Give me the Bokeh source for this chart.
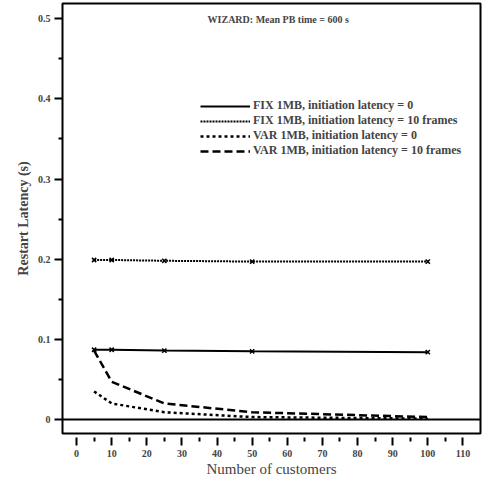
from bokeh.plotting import figure
from bokeh.models import (Range1d, FixedTicker, Span, Legend, LegendItem, Label)
from bokeh.embed import file_html
from bokeh.resources import INLINE

# Number of customers
customers = [5, 10, 25, 50, 100]

# Restart latency (s) for each configuration
fix_lat0 = [0.087, 0.087, 0.086, 0.085, 0.084]
fix_lat10 = [0.199, 0.199, 0.198, 0.197, 0.197]
var_lat0 = [0.035, 0.020, 0.009, 0.003, 0.001]
var_lat10 = [0.086, 0.047, 0.020, 0.009, 0.003]

series_labels = [
    "FIX 1MB, initiation latency = 0",
    "FIX 1MB, initiation latency = 10 frames",
    "VAR 1MB, initiation latency = 0",
    "VAR 1MB, initiation latency = 10 frames",
]

x_ticks = [0, 10, 20, 30, 40, 50, 60, 70, 80, 90, 100, 110]
x_minor = [5, 15, 25, 35, 45, 55, 65, 75, 85, 95, 105]
y_ticks = [0, 0.1, 0.2, 0.3, 0.4, 0.5]
y_minor = [0.05, 0.15, 0.25, 0.35, 0.45]

SERIF = "Liberation Serif"

p = figure(width=482, height=484, output_backend="svg", toolbar_location=None,
           x_range=Range1d(-4.0, 115.0), y_range=Range1d(-0.0175, 0.519),
           min_border_left=62, min_border_right=2, min_border_top=3,
           min_border_bottom=51)
p.grid.visible = False
p.background_fill_color = "white"
p.border_fill_color = "white"
p.outline_line_color = "black"
p.outline_line_width = 2

# x axis sits a little below the frame
xa = p.xaxis[0]
xa.ticker = FixedTicker(ticks=x_ticks, minor_ticks=x_minor)
xa.axis_line_color = None
xa.major_tick_in = -4
xa.major_tick_out = 12
xa.minor_tick_in = -4
xa.minor_tick_out = 8
xa.major_tick_line_width = 2
xa.minor_tick_line_width = 2
xa.major_label_standoff = 4
xa.major_label_text_font = SERIF
xa.major_label_text_font_style = "bold"
xa.major_label_text_font_size = "10px"
xa.axis_label = "Number of customers"
xa.axis_label_text_font = SERIF
xa.axis_label_text_font_style = "normal"
xa.axis_label_text_font_size = "15px"
xa.axis_label_standoff = 1

ya = p.yaxis[0]
ya.ticker = FixedTicker(ticks=y_ticks, minor_ticks=y_minor)
ya.axis_line_color = None
ya.major_tick_in = 0
ya.major_tick_out = 8
ya.minor_tick_in = 0
ya.minor_tick_out = 4
ya.major_tick_line_width = 2
ya.minor_tick_line_width = 2
ya.major_label_standoff = 4
ya.major_label_overrides = {0: "0"}
ya.major_label_text_font = SERIF
ya.major_label_text_font_style = "bold"
ya.major_label_text_font_size = "10px"
ya.axis_label = "Restart Latency (s)"
ya.axis_label_text_font = SERIF
ya.axis_label_text_font_style = "bold"
ya.axis_label_text_font_size = "14px"
ya.axis_label_standoff = 4

# zero reference line across the frame
p.add_layout(Span(location=0, dimension="width", line_color="black", line_width=2))

r1 = p.line(customers, fix_lat0, line_color="black", line_width=2)
p.scatter(customers, fix_lat0, marker="x", size=6, line_color="black", line_width=1.5)
r2 = p.line(customers, fix_lat10, line_color="black", line_width=2, line_dash="2 1")
p.scatter(customers, fix_lat10, marker="x", size=6, line_color="black", line_width=1.5)
r3 = p.line(customers, var_lat0, line_color="black", line_width=2.5, line_dash="3 3")
r4 = p.line(customers, var_lat10, line_color="black", line_width=2.5, line_dash="8 4")

legend = Legend(items=[LegendItem(label=series_labels[i], renderers=[r])
                       for i, r in enumerate([r1, r2, r3, r4])],
                location=(138, 275), padding=0, spacing=0, margin=0,
                glyph_width=50, glyph_height=12, label_height=12,
                label_standoff=3, label_text_font=SERIF,
                label_text_font_size="12px", label_text_font_style="bold",
                background_fill_alpha=0, border_line_color=None)
p.add_layout(legend)

p.add_layout(Label(x=37.3, y=0.4985, text="WIZARD: Mean PB time = 600 s",
                   text_font=SERIF, text_font_style="bold", text_font_size="10px",
                   text_baseline="middle"))

open("out.html", "w").write(file_html(p, INLINE))
